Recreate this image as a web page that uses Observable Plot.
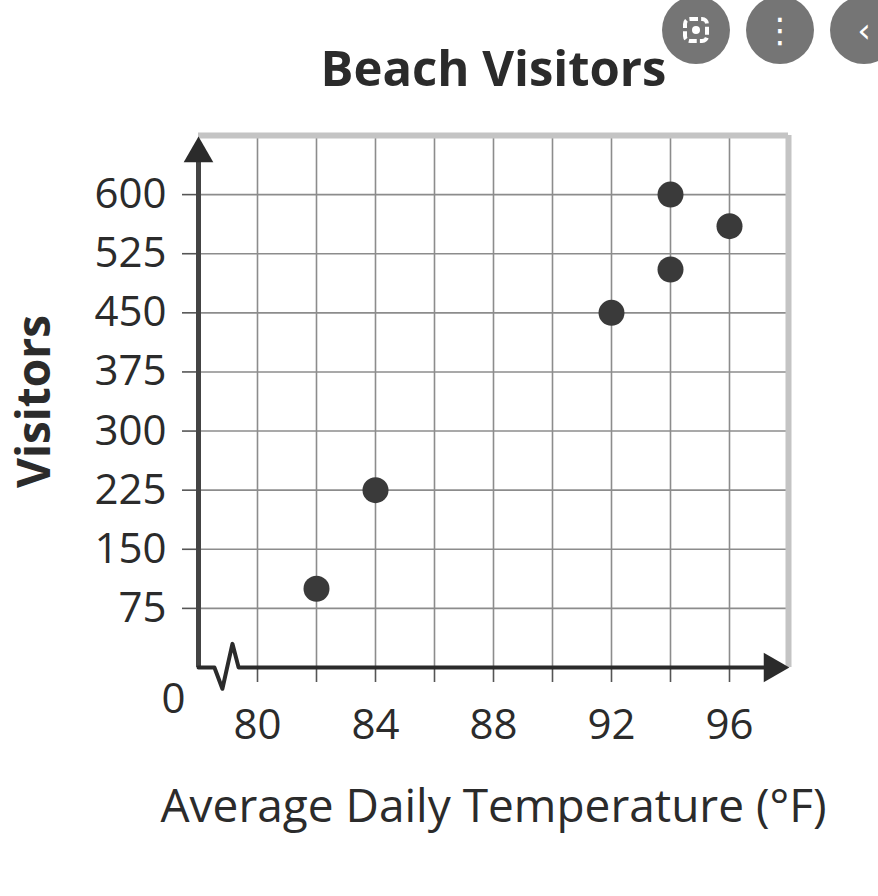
<!DOCTYPE html>
<html>
<head>
<meta charset="utf-8">
<script src="https://cdn.jsdelivr.net/npm/d3@7"></script>
<script src="https://cdn.jsdelivr.net/npm/@observablehq/plot@0.6"></script>
<style>
  body { margin: 0; background: white; }
  #chart { position: relative; width: 878px; height: 896px; }
  .btn {
    position: absolute; top: -4px; width: 68px; height: 68px; border-radius: 50%;
    background: #757575; color: white; font-family: "DejaVu Sans", sans-serif;
    display: flex; align-items: center; justify-content: center; font-size: 34px;
  }
</style>
</head>
<body>
<div id="chart">
  <div class="btn" style="left:662px;"><span style="display:inline-block;width:26px;height:26px;border:4px dashed white;border-radius:7px;box-sizing:border-box;position:relative;"><span style="position:absolute;left:5px;top:5px;width:8px;height:8px;background:white;border-radius:50%;"></span></span></div>
  <div class="btn" style="left:746px;">⋮</div>
  <div class="btn" style="left:830px;">‹</div>
</div>
<script>
// data
const temperature = [82, 84, 92, 94, 94, 96]
const visitors = [100, 225, 450, 600, 505, 560]

// axes
const xTicks = [80, 82, 84, 86, 88, 90, 92, 94, 96]
const xTickLabels = [80, 84, 88, 92, 96]
const yTicks = [75, 150, 225, 300, 375, 450, 525, 600]
const xDomain = [78, 98]
const yDomain = [0, 675]

const points = temperature.map((t, i) => ({temperature: t, visitors: visitors[i]}))

// little zig-zag that marks the broken x axis
const axisBreak = [
  {x: 78, y: 0}, {x: 78.54, y: 0}, {x: 78.81, y: -27},
  {x: 79.15, y: 30}, {x: 79.36, y: 0}, {x: 97.4, y: 0}
]

const ink = "#2b2b2b"

const chart = Plot.plot({
  width: 878,
  height: 896,
  marginLeft: 198,
  marginRight: 90,
  marginTop: 135,
  marginBottom: 229,
  x: {domain: xDomain},
  y: {domain: yDomain},
  style: {fontFamily: "Open Sans", background: "white", color: ink},
  marks: [
    // grid
    Plot.ruleX(xTicks, {y1: yDomain[0], y2: yDomain[1], stroke: "#8c8c8c", strokeWidth: 1.6}),
    Plot.ruleY(yTicks, {x1: xDomain[0], x2: xDomain[1], stroke: "#8c8c8c", strokeWidth: 1.6}),
    // light frame on top and right
    Plot.ruleY([yDomain[1]], {x1: xDomain[0], x2: xDomain[1], stroke: "#c4c4c4", strokeWidth: 6}),
    Plot.ruleX([xDomain[1]], {y1: yDomain[0], y2: yDomain[1], stroke: "#c4c4c4", strokeWidth: 6}),
    // ticks and tick labels
    Plot.axisX(xTicks, {
      tickFormat: d => xTickLabels.includes(d) ? d : "",
      tickSize: 15, tickPadding: 27, fontSize: 42, stroke: "#555", strokeWidth: 1.6, label: null
    }),
    Plot.axisY(yTicks, {
      tickSize: 16, tickPadding: 16, fontSize: 42, stroke: "#555", strokeWidth: 1.6, label: null
    }),
    // axis lines with arrows
    Plot.ruleX([xDomain[0]], {y1: 0, y2: 650, stroke: "#444", strokeWidth: 5}),
    Plot.line(axisBreak, {x: "x", y: "y", stroke: ink, strokeWidth: 4, curve: "linear"}),
    Plot.dot([{x: xDomain[0], y: 652}], {x: "x", y: "y", symbol: "triangle", r: 11, fill: ink}),
    Plot.dot([{x: 97.45, y: 0}], {x: "x", y: "y", symbol: "triangle", r: 11, fill: ink, rotate: 90}),
    Plot.text(["0"], {x: xDomain[0], y: 0, dx: -25, dy: 32, fontSize: 42, fill: ink}),
    // data
    Plot.dot(points, {x: "temperature", y: "visitors", r: 13, fill: "#3a3a3a"}),
    // titles
    Plot.text(["Beach Visitors"], {frameAnchor: "top", dy: -84, fontSize: 49, fontWeight: "bold", fill: ink}),
    Plot.text(["Average Daily Temperature (°F)"], {frameAnchor: "bottom", dy: 154, fontSize: 46, fill: ink}),
    Plot.text(["Visitors"], {frameAnchor: "left", dx: -163, rotate: -90, textAnchor: "middle", fontSize: 46, fontWeight: "bold", fill: ink})
  ]
})

d3.select("#chart").insert(() => chart, ":first-child")
</script>
</body>
</html>
